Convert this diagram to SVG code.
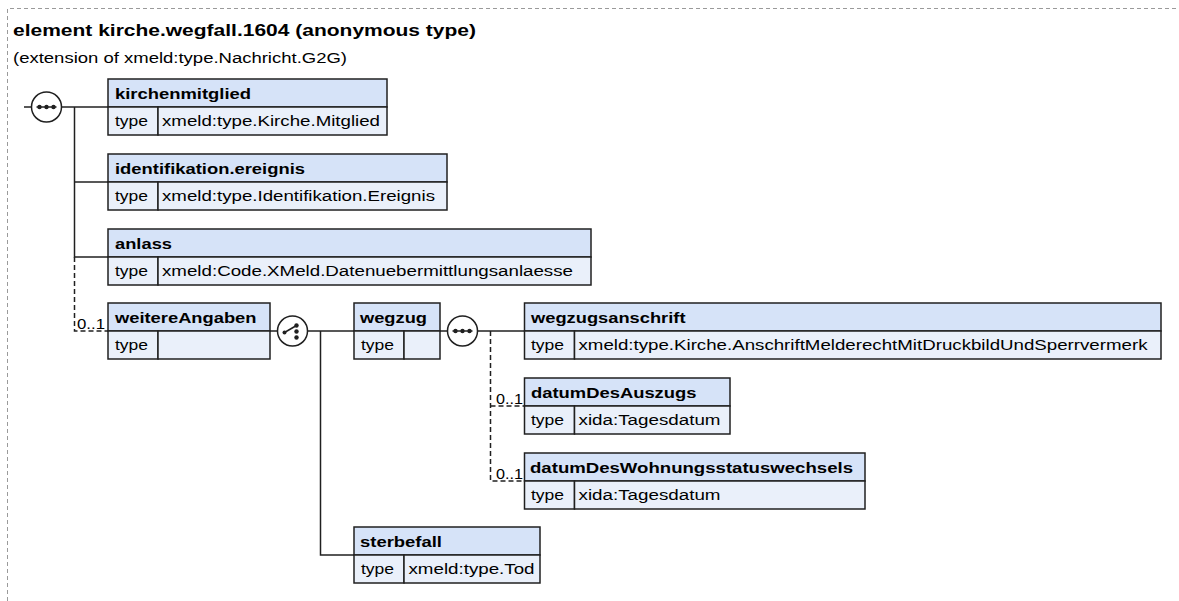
<svg xmlns="http://www.w3.org/2000/svg" width="1179" height="601" viewBox="0 0 1179 601">
<style>
.frame{fill:none;stroke:#9a9a9a;stroke-width:1;stroke-dasharray:4,3}
.hd{fill:#d6e3f8;stroke:#202020;stroke-width:1.5}
.rw{fill:#eaf0fa;stroke:#202020;stroke-width:1.5}
.ln{fill:none;stroke:#202020;stroke-width:1.5}
.dl{fill:none;stroke:#202020;stroke-width:1.5;stroke-dasharray:5,3}
.nm{font-family:"Liberation Sans",Arial,sans-serif;font-size:15.5px;font-weight:bold;fill:#000}
.tx{font-family:"Liberation Sans",Arial,sans-serif;font-size:15.5px;fill:#000}
.oc{font-family:"Liberation Sans",Arial,sans-serif;font-size:14px;fill:#000}
.ttl{font-family:"Liberation Sans",Arial,sans-serif;font-size:17px;font-weight:bold;fill:#000}
.sub{font-family:"Liberation Sans",Arial,sans-serif;font-size:15.5px;fill:#000}
.cmp{fill:#fff;stroke:#202020;stroke-width:1.5}
.dot{fill:#202020}
</style>
<polyline class="frame" points="7.5,601 7.5,8.5 1179,8.5"/>
<text class="ttl" x="13" y="36" textLength="463" lengthAdjust="spacingAndGlyphs">element kirche.wegfall.1604 (anonymous type)</text>
<text class="sub" x="13" y="63" textLength="334" lengthAdjust="spacingAndGlyphs">(extension of xmeld:type.Nachricht.G2G)</text>

<g id="connectors">
<line class="ln" x1="24" y1="107" x2="31.5" y2="107"/>
<line class="ln" x1="61.5" y1="107" x2="108" y2="107"/>
<polyline class="ln" points="74.5,107 74.5,257 108,257"/>
<line class="ln" x1="74.5" y1="182" x2="108" y2="182"/>
<polyline class="dl" points="74.5,257 74.5,331 108,331"/>
<text class="oc" x="77" y="329" textLength="28" lengthAdjust="spacingAndGlyphs">0..1</text>
<line class="ln" x1="270" y1="331" x2="277.5" y2="331"/>
<line class="ln" x1="307.5" y1="331" x2="354" y2="331"/>
<polyline class="ln" points="320.5,331 320.5,555 354,555"/>
<line class="ln" x1="440" y1="331" x2="447.5" y2="331"/>
<line class="ln" x1="477.5" y1="331" x2="524.5" y2="331"/>
<polyline class="dl" points="490.5,331 490.5,481 524.5,481"/>
<line class="dl" x1="490.5" y1="406" x2="524.5" y2="406"/>
<text class="oc" x="496" y="404" textLength="27" lengthAdjust="spacingAndGlyphs">0..1</text>
<text class="oc" x="496" y="479" textLength="27" lengthAdjust="spacingAndGlyphs">0..1</text>
</g>

<g id="seq1">
<circle class="cmp" cx="46.5" cy="107" r="15"/>
<line class="ln" x1="36.5" y1="107" x2="56.5" y2="107"/>
<circle class="dot" cx="39.5" cy="107" r="2.2"/>
<circle class="dot" cx="46.5" cy="107" r="2.2"/>
<circle class="dot" cx="53.5" cy="107" r="2.2"/>
</g>

<g id="choice1">
<circle class="cmp" cx="292.5" cy="331" r="15"/>
<line class="ln" x1="284.5" y1="332.5" x2="296.5" y2="325.5"/>
<circle class="dot" cx="284.5" cy="332.5" r="2"/>
<circle class="dot" cx="296.5" cy="325.5" r="2.2"/>
<circle class="dot" cx="296.5" cy="331.5" r="2.2"/>
<circle class="dot" cx="296.5" cy="337.5" r="2.2"/>
</g>

<g id="seq2">
<circle class="cmp" cx="462.5" cy="331" r="15"/>
<line class="ln" x1="452.5" y1="331" x2="472.5" y2="331"/>
<circle class="dot" cx="455.5" cy="331" r="2.2"/>
<circle class="dot" cx="462.5" cy="331" r="2.2"/>
<circle class="dot" cx="469.5" cy="331" r="2.2"/>
</g>

<g id="n-kirchenmitglied">
<rect class="hd" x="108" y="79" width="279" height="28"/>
<rect class="rw" x="108" y="107" width="50" height="28"/>
<rect class="rw" x="158" y="107" width="229" height="28"/>
<text class="nm" x="115" y="98.5" textLength="136" lengthAdjust="spacingAndGlyphs">kirchenmitglied</text>
<text class="tx" x="115" y="126" textLength="33" lengthAdjust="spacingAndGlyphs">type</text>
<text class="tx" x="162" y="126" textLength="218" lengthAdjust="spacingAndGlyphs">xmeld:type.Kirche.Mitglied</text>
</g>

<g id="n-identifikation">
<rect class="hd" x="108" y="154" width="339" height="28"/>
<rect class="rw" x="108" y="182" width="50" height="28"/>
<rect class="rw" x="158" y="182" width="289" height="28"/>
<text class="nm" x="115" y="173.5" textLength="190" lengthAdjust="spacingAndGlyphs">identifikation.ereignis</text>
<text class="tx" x="115" y="201" textLength="33" lengthAdjust="spacingAndGlyphs">type</text>
<text class="tx" x="162" y="201" textLength="273" lengthAdjust="spacingAndGlyphs">xmeld:type.Identifikation.Ereignis</text>
</g>

<g id="n-anlass">
<rect class="hd" x="108" y="229" width="483" height="28"/>
<rect class="rw" x="108" y="257" width="50" height="28"/>
<rect class="rw" x="158" y="257" width="433" height="28"/>
<text class="nm" x="115" y="248.5" textLength="57" lengthAdjust="spacingAndGlyphs">anlass</text>
<text class="tx" x="115" y="276" textLength="33" lengthAdjust="spacingAndGlyphs">type</text>
<text class="tx" x="162" y="276" textLength="411" lengthAdjust="spacingAndGlyphs">xmeld:Code.XMeld.Datenuebermittlungsanlaesse</text>
</g>

<g id="n-weitereAngaben">
<rect class="hd" x="108" y="303" width="162" height="28"/>
<rect class="rw" x="108" y="331" width="50" height="28"/>
<rect class="rw" x="158" y="331" width="112" height="28"/>
<text class="nm" x="115" y="322.5" textLength="141.5" lengthAdjust="spacingAndGlyphs">weitereAngaben</text>
<text class="tx" x="115" y="350" textLength="33" lengthAdjust="spacingAndGlyphs">type</text>
</g>

<g id="n-wegzug">
<rect class="hd" x="354" y="303" width="86" height="28"/>
<rect class="rw" x="354" y="331" width="50" height="28"/>
<rect class="rw" x="404" y="331" width="36" height="28"/>
<text class="nm" x="360" y="322.5" textLength="67" lengthAdjust="spacingAndGlyphs">wegzug</text>
<text class="tx" x="361" y="350" textLength="33" lengthAdjust="spacingAndGlyphs">type</text>
</g>

<g id="n-wegzugsanschrift">
<rect class="hd" x="524.5" y="303" width="636.5" height="28"/>
<rect class="rw" x="524.5" y="331" width="50" height="28"/>
<rect class="rw" x="574.5" y="331" width="586.5" height="28"/>
<text class="nm" x="531" y="322.5" textLength="154.5" lengthAdjust="spacingAndGlyphs">wegzugsanschrift</text>
<text class="tx" x="531" y="350" textLength="33" lengthAdjust="spacingAndGlyphs">type</text>
<text class="tx" x="578.5" y="350" textLength="569" lengthAdjust="spacingAndGlyphs">xmeld:type.Kirche.AnschriftMelderechtMitDruckbildUndSperrvermerk</text>
</g>

<g id="n-datumDesAuszugs">
<rect class="hd" x="524.5" y="378" width="205.5" height="28"/>
<rect class="rw" x="524.5" y="406" width="50" height="28"/>
<rect class="rw" x="574.5" y="406" width="155.5" height="28"/>
<text class="nm" x="531" y="397.5" textLength="165.5" lengthAdjust="spacingAndGlyphs">datumDesAuszugs</text>
<text class="tx" x="531" y="425" textLength="33" lengthAdjust="spacingAndGlyphs">type</text>
<text class="tx" x="578.5" y="425" textLength="142" lengthAdjust="spacingAndGlyphs">xida:Tagesdatum</text>
</g>

<g id="n-datumDesWohnungsstatuswechsels">
<rect class="hd" x="524.5" y="453" width="340.5" height="28"/>
<rect class="rw" x="524.5" y="481" width="50" height="28"/>
<rect class="rw" x="574.5" y="481" width="290.5" height="28"/>
<text class="nm" x="530" y="472.5" textLength="323" lengthAdjust="spacingAndGlyphs">datumDesWohnungsstatuswechsels</text>
<text class="tx" x="531" y="500" textLength="33" lengthAdjust="spacingAndGlyphs">type</text>
<text class="tx" x="578.5" y="500" textLength="142" lengthAdjust="spacingAndGlyphs">xida:Tagesdatum</text>
</g>

<g id="n-sterbefall">
<rect class="hd" x="354" y="527" width="186" height="28"/>
<rect class="rw" x="354" y="555" width="50" height="28"/>
<rect class="rw" x="404" y="555" width="136" height="28"/>
<text class="nm" x="360" y="546.5" textLength="82" lengthAdjust="spacingAndGlyphs">sterbefall</text>
<text class="tx" x="361" y="574" textLength="33" lengthAdjust="spacingAndGlyphs">type</text>
<text class="tx" x="408.5" y="574" textLength="126" lengthAdjust="spacingAndGlyphs">xmeld:type.Tod</text>
</g>
</svg>
